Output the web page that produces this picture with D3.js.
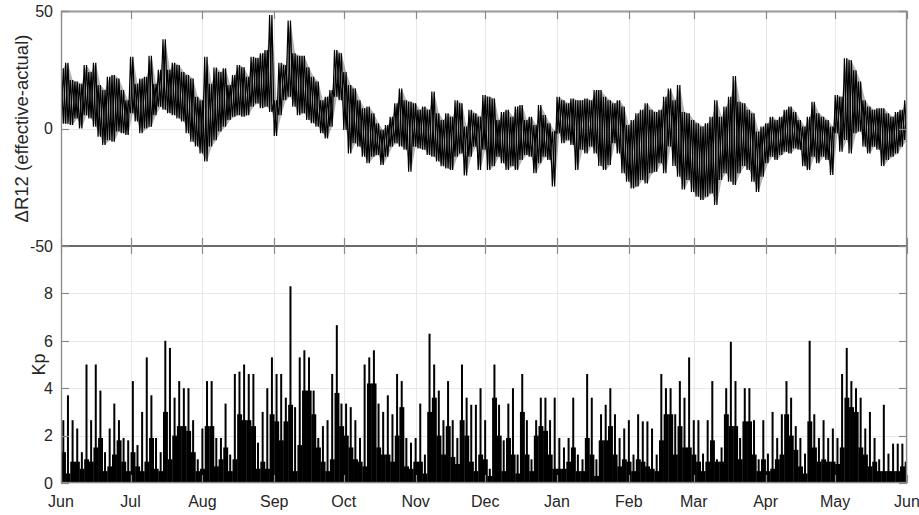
<!DOCTYPE html>
<html>
<head>
<meta charset="utf-8">
<script src="https://cdn.jsdelivr.net/npm/d3@7"></script>
<style>
  body { margin: 0; background: #fff; }
  text { font-family: "Liberation Sans", Arial, Helvetica, sans-serif; fill: #262626; }
</style>
</head>
<body>
<svg id="chart" width="919" height="515"></svg>
<script>
// One year of data, June to June, in 2-day bins.
const startDay = "2016-06-01";
const endDay = "2017-06-01";
const binDays = 2;

// ΔR12 (effective - actual): upper and lower excursion in each 2-day bin
const r12High = [
  25.6, 28, 20.6, 20, 19, 27, 24, 28, 18.5, 16.4, 22, 22.8, 21.3, 16.4, 12, 30.5, 19, 21.3, 22, 31,
  19, 25, 38, 25, 28, 27, 24, 22.8, 21.3, 13.5, 12, 30.5, 19, 26, 24, 25.6, 18.5, 22.8, 27,
  26, 22, 30.5, 30, 32, 33.4, 48.3, 12, 28, 27, 46, 32, 31, 31, 26, 22, 20, 12, 13.5, 16.4,
  33.4, 32, 24, 18.5, 17, 12, 8.6, 9.3, 6.5, 2.2, -0.6, 1.5, 5, 10.7, 17, 12, 11.4, 10.7, 8, 9.3,
  8, 15.7, 6.5, 3.6, 6.5, 5, 12, 10.7, 0.8,
  8, 6.5, 5, 14.2, 13.5, 12.8, 3.6, 7, 8, 5, 9.3, 10, 3.6, 5, 1.5, 10, 5.7, 2.2, -1.3, 13.5,
  12, 10.7, 12.8, 12, 12, 12.8, 12, 16.4, 16.4, 13.5, 12, 10.7, 12, 9.3, 1.5, 3.6, 6.5, 8, 10.7, 8,
  7, 8, 13.5, 17, 12, 18.5, 7,
  6.5, 3.6, 2.2, 0.8, 2.2, 5, 12, 5, 9.3, 13.5, 22.3, 11.4, 10.7, 8, 6.5, -1.3, 0.8, 2.2, 5, 3.6,
  5, 8, 9.3, 7, 3.6, 0.8, 5, 11.4, 6.5, 5, 3.6, 0.8, 14.2, 13.5, 29.9, 29, 24.8, 20, 12, 9.3,
  8, 8.6, 8.6, 6.5, 5, 7, 8, 12
];
const r12Low = [
  2, 2, 1.5, 4.3, 0, 5.7, 4.3, 0.8, -3.5, -7, -5, -5.6, -1.3, -2, -2.8, 6.5, 3, -2, 0, 0.8,
  5.7, 9.3, 8, 6.5, 5.7, 4.3, 3, -2, -5.6, -7.7, -10.6, -14, -7.7, -5, -1.3, 0.8, 3.6, 5, 5.7,
  5, 5.7, 9.3, 10.7, 8.6, 9.3, 7, -3.2, 5.7, 12, 13.5, 9.3, 5.7, 6.5, 3.6, 2.2, 0.8, -2, -4.2, 0.8,
  13.5, 12, -0.6, -10.6, -6.3, -7.7, -12, -14.8, -12, -11.3, -15.5, -12, -7.7, -6.3, -7.7, -9, -18.4, -7.7, -8.5, -9,
  -11.3, -12, -14, -16, -17, -17.7, -12, -10.6, -20,
  -12, -7.7, -17.7, -9, -17.7, -16, -12, -14.8, -17.7, -16, -17.7, -13.4, -11.3, -12, -19, -14.8, -12, -13.4, -24.7, -2,
  -6.3, -5, -7, -17.7, -9, -10.6, -7.7, -10.6, -16, -17.7, -15.5, -6.3, -10.6, -19, -22.6, -25.5, -24.7, -21.9, -23.4, -19,
  -18.4, -14.8, -19, -7.7, -16, -20.5, -26,
  -21.9, -27, -29, -30.4, -29, -27.6, -32.5, -21.9, -19, -22.6, -24, -19, -16, -17.7, -22.6, -27, -20.5, -14.8, -12, -13.4,
  -11.3, -9.9, -10.6, -8.5, -9, -16, -17.7, -12, -14.8, -12, -13.4, -19.8, -2, -9.9, -4.9, -10.6, -2, -1.3, -7.7, -10.6,
  -7.7, -9, -16, -13.4, -12, -10.6, -7.7, -4.9
];

// Kp index: peak value and sustained level in each 2-day bin
const kpMax = [
  2.65, 3.7, 2.65, 2.3, 1.3, 5.0, 2.65, 5.0, 3.9, 1.3, 2.3, 3.35, 2.65, 1.9, 1.8, 4.3, 1.6, 3.0, 5.3, 3.7,
  1.9, 1.3, 6.0, 5.7, 3.6, 4.3, 4.0, 4.0, 2.65, 1.0, 2.3, 4.3, 4.3, 1.9, 1.9, 3.35, 1.2, 4.6, 4.7,
  5.0, 4.6, 4.6, 1.7, 3.0, 4.0, 5.3, 4.6, 4.6, 3.6, 8.3, 3.2, 5.3, 5.6, 5.3, 3.9, 1.9, 2.4, 2.65, 4.6,
  6.66, 3.35, 3.35, 3.2, 2.65, 1.9, 5.0, 5.3, 5.6, 3.35, 3.0, 3.7, 2.9, 4.6, 4.3, 1.9, 1.7, 1.9, 3.35, 1.2,
  6.3, 5.0, 3.9, 2.65, 4.3, 2.65, 1.9, 5.0, 3.6,
  3.3, 3.3, 4.0, 2.65, 0.6, 5.0, 3.3, 1.8, 3.35, 4.0, 1.2, 4.6, 2.65, 1.0, 2.65, 3.6, 3.6, 2.65, 3.6, 1.9,
  1.5, 1.9, 3.6, 1.2, 1.0, 4.6, 3.6, 1.0, 2.9, 3.3, 4.0, 2.9, 1.9, 2.3, 2.65, 1.2, 2.9, 2.6, 2.6, 2.3,
  1.2, 4.6, 4.0, 4.0, 2.9, 4.3, 3.6,
  5.3, 2.65, 2.65, 1.24, 2.65, 4.3, 1.0, 1.5, 4.0, 5.96, 4.3, 1.9, 4.0, 4.0, 2.65, 1.0, 2.65, 1.24, 3.0, 1.9,
  2.9, 4.3, 3.6, 2.4, 1.9, 1.24, 6.0, 2.9, 1.9, 2.65, 1.9, 2.3, 1.9, 4.6, 5.7, 4.3, 4.0, 3.6, 2.3, 3.0,
  1.9, 1.0, 3.3, 1.24, 1.66, 1.66, 1.66, 4.3
];
const kpBase = [
  1.3, 0.4, 0.9, 0.9, 0.6, 1.0, 0.9, 1.5, 1.9, 0.5, 0.7, 1.2, 1.8, 0.9, 0.5, 1.3, 0.7, 0.5, 0.9, 1.9,
  0.6, 0.5, 3.0, 1.0, 2.0, 2.4, 2.4, 2.2, 1.3, 0.5, 0.6, 2.4, 2.4, 0.7, 1.0, 1.5, 0.5, 1.0, 2.9,
  2.65, 2.65, 2.4, 0.6, 0.9, 0.6, 2.9, 2.6, 1.8, 2.6, 3.3, 0.5, 1.6, 3.9, 3.9, 2.9, 1.5, 0.9, 0.5, 1.0,
  3.8, 2.4, 2.0, 1.5, 1.0, 0.9, 0.7, 4.2, 4.2, 1.5, 1.2, 1.2, 0.9, 2.0, 3.2, 0.7, 0.6, 0.9, 0.9, 0.4,
  3.0, 3.6, 2.0, 1.2, 2.4, 1.1, 0.8, 2.65, 2.0,
  0.9, 0.5, 1.2, 1.0, 0.3, 3.6, 2.0, 0.5, 1.9, 1.2, 0.4, 3.0, 1.2, 0.5, 2.0, 2.4, 2.2, 1.2, 0.6, 0.6,
  0.6, 0.9, 1.5, 0.5, 0.5, 1.9, 1.2, 0.3, 1.8, 1.8, 2.4, 1.2, 0.7, 1.0, 0.9, 0.5, 1.0, 0.9, 0.7, 0.6,
  0.5, 1.8, 2.9, 2.9, 1.2, 2.4, 1.5,
  1.5, 1.2, 0.9, 0.5, 0.9, 1.8, 0.9, 0.9, 2.9, 2.4, 2.4, 1.0, 2.6, 2.6, 1.2, 0.5, 1.0, 0.5, 0.6, 1.0,
  1.2, 2.9, 2.0, 1.4, 0.7, 0.4, 2.6, 1.5, 0.9, 1.0, 0.9, 0.9, 0.8, 1.5, 3.6, 3.2, 3.0, 1.5, 1.2, 0.7,
  0.9, 0.5, 0.5, 0.5, 0.5, 0.5, 0.7, 0.9
];

const r12Ticks = [-50, 0, 50];
const kpTicks = [0, 2, 4, 6, 8, 10];
const kpTickLabels = ["0", "2", "4", "6", "8", ""];
const r12Label = "ΔR12 (effective-actual)";
const kpLabel = "Kp";

// ---- layout ----
const W = 919, H = 515;
const left = 61, right = 907;
const top1 = 11, bot1 = 246, top2 = 246, bot2 = 483;
const axisColor = "#8a8a8a";
const gridColor = "#e8e8e8";
const tickLen = 8;

const svg = d3.select("#chart");
svg.append("rect").attr("width", W).attr("height", H).attr("fill", "#fff");

const t0 = new Date(startDay + "T00:00:00Z");
const t1 = new Date(endDay + "T00:00:00Z");
const dayDate = d => d3.utcDay.offset(t0, d);

const x = d3.scaleUtc().domain([t0, t1]).range([left, right]);
const yR = d3.scaleLinear().domain([-50, 50]).range([bot1, top1]);
const yK = d3.scaleLinear().domain([0, 10]).range([bot2, top2]);
const months = d3.utcMonth.range(t0, d3.utcDay.offset(t1, 1));

const defs = svg.append("defs");
defs.append("clipPath").attr("id", "clipR").append("rect")
  .attr("x", left).attr("y", top1).attr("width", right - left).attr("height", bot1 - top1);
defs.append("clipPath").attr("id", "clipK").append("rect")
  .attr("x", left).attr("y", top2).attr("width", right - left).attr("height", bot2 - top2);

// ---- grid ----
const grid = svg.append("g").attr("stroke", gridColor).attr("stroke-width", 1);
[[top1, bot1], [top2, bot2]].forEach(([a, b]) => {
  grid.selectAll(null).data(months).join("line")
    .attr("x1", d => Math.round(x(d)) + 0.5).attr("x2", d => Math.round(x(d)) + 0.5)
    .attr("y1", a).attr("y2", b);
});
grid.selectAll(null).data(r12Ticks).join("line")
  .attr("x1", left).attr("x2", right)
  .attr("y1", d => Math.round(yR(d)) + 0.5).attr("y2", d => Math.round(yR(d)) + 0.5);
grid.selectAll(null).data(kpTicks).join("line")
  .attr("x1", left).attr("x2", right)
  .attr("y1", d => Math.round(yK(d)) + 0.5).attr("y2", d => Math.round(yK(d)) + 0.5);

// ---- ΔR12 trace ----
// The swing inside each bin is drawn as a light envelope plus two
// crossing traces (high→low and low→high), which darkens the middle.
const r12G = svg.append("g").attr("clip-path", "url(#clipR)");
const bins = r12High.map((v, i) => ({ i, hi: v, lo: r12Low[i] }));
const envelope = d3.area()
  .x(d => x(dayDate(d.i * binDays + binDays / 2)))
  .y0(d => yR(d.lo)).y1(d => yR(d.hi));
r12G.append("path").attr("d", envelope(bins))
  .attr("fill", "#000").attr("fill-opacity", 0.3);

const traceA = [], traceB = [];
bins.forEach(b => {
  traceA.push([dayDate(b.i * binDays), b.hi], [dayDate(b.i * binDays + binDays / 2), b.lo]);
  traceB.push([dayDate(b.i * binDays), b.lo], [dayDate(b.i * binDays + binDays / 2), b.hi]);
});
const line = d3.line().x(d => x(d[0])).y(d => yR(d[1]));
[traceA, traceB].forEach(tr => {
  r12G.append("path")
    .attr("d", line(tr))
    .attr("fill", "none")
    .attr("stroke", "#000")
    .attr("stroke-width", 1.2);
});

// ---- Kp bars ----
const kpG = svg.append("g").attr("clip-path", "url(#clipK)");
kpG.selectAll("rect.base").data(kpBase).join("rect")
  .attr("class", "base")
  .attr("x", (d, i) => x(dayDate(i * binDays)))
  .attr("width", (d, i) => x(dayDate((i + 1) * binDays)) - x(dayDate(i * binDays)) + 0.3)
  .attr("y", d => yK(d))
  .attr("height", d => yK(0) - yK(d))
  .attr("fill", "#000");
kpG.selectAll("rect.peak").data(kpMax).join("rect")
  .attr("class", "peak")
  .attr("x", (d, i) => x(dayDate(i * binDays + binDays / 2)) - 1)
  .attr("width", 2)
  .attr("y", d => yK(d))
  .attr("height", d => yK(0) - yK(d))
  .attr("fill", "#000");

// ---- axes boxes and ticks ----
const ax = svg.append("g").attr("stroke", axisColor).attr("fill", "none");
ax.append("rect").attr("x", left + 0.5).attr("y", top1 + 0.5)
  .attr("width", right - left - 1).attr("height", bot2 - top1 - 1).attr("stroke-width", 1.3);
ax.append("line").attr("x1", left).attr("x2", right).attr("y1", top1 + 0.5).attr("y2", top1 + 0.5)
  .attr("stroke", "#a0a0a0").attr("stroke-width", 2);
// shared edge between the panels
ax.append("line").attr("x1", left).attr("x2", right).attr("y1", bot1).attr("y2", bot1)
  .attr("stroke", "#6a6a6a").attr("stroke-width", 2);

// month ticks on every horizontal edge, pointing inward
[[top1, 1], [bot1, -1], [top2, 1], [bot2, -1]].forEach(([y0, dir]) => {
  ax.selectAll(null).data(months).join("line")
    .attr("x1", d => Math.round(x(d)) + 0.5).attr("x2", d => Math.round(x(d)) + 0.5)
    .attr("y1", y0).attr("y2", y0 + dir * tickLen).attr("stroke-width", 1.2);
});
// value ticks on both vertical edges
[[left, 1], [right, -1]].forEach(([x0, dir]) => {
  ax.selectAll(null).data(r12Ticks).join("line")
    .attr("x1", x0).attr("x2", x0 + dir * tickLen)
    .attr("y1", d => Math.round(yR(d)) + 0.5).attr("y2", d => Math.round(yR(d)) + 0.5)
    .attr("stroke-width", 1.2);
  ax.selectAll(null).data(kpTicks).join("line")
    .attr("x1", x0).attr("x2", x0 + dir * tickLen)
    .attr("y1", d => Math.round(yK(d)) + 0.5).attr("y2", d => Math.round(yK(d)) + 0.5)
    .attr("stroke-width", 1.2);
});

// ---- tick labels ----
const fs = 16;
const labels = svg.append("g").attr("font-size", fs);
labels.selectAll(null).data(r12Ticks).join("text")
  .attr("x", left - 8).attr("y", d => yR(d)).attr("dy", "0.36em")
  .attr("text-anchor", "end").text(d => d);
labels.selectAll(null).data(kpTicks).join("text")
  .attr("x", left - 8).attr("y", d => yK(d)).attr("dy", "0.36em")
  .attr("text-anchor", "end").text((d, i) => kpTickLabels[i]);
labels.selectAll(null).data(months).join("text")
  .attr("x", d => x(d)).attr("y", 507)
  .attr("text-anchor", "middle").text(d => d3.utcFormat("%b")(d));

// ---- axis titles ----
svg.append("text")
  .attr("transform", `translate(28,${(top1 + bot1) / 2}) rotate(-90)`)
  .attr("text-anchor", "middle").attr("font-size", 18.5)
  .text(r12Label);
svg.append("text")
  .attr("transform", `translate(45,${(top2 + bot2) / 2}) rotate(-90)`)
  .attr("text-anchor", "middle").attr("font-size", 18)
  .text(kpLabel);
</script>
</body>
</html>
